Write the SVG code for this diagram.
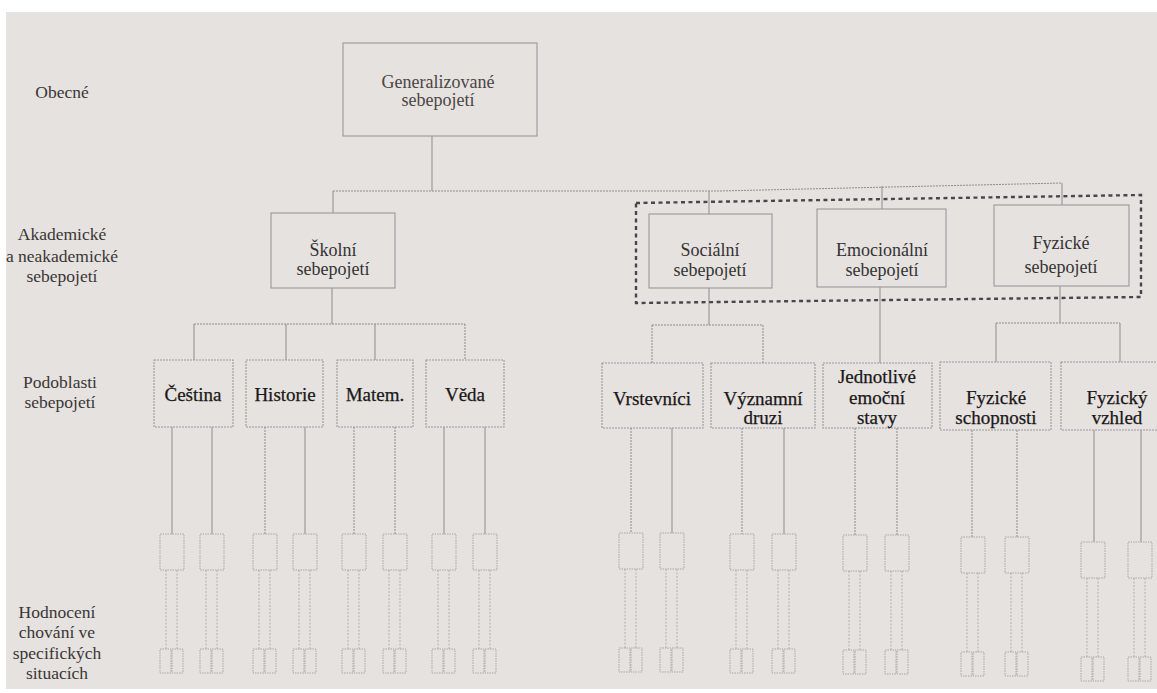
<svg xmlns="http://www.w3.org/2000/svg" xmlns:xlink="http://www.w3.org/1999/xlink" width="1157" height="693" viewBox="0 0 1157 693">
<style>
  .bg{fill:#e6e2e0}
  .box{fill:none;stroke:#9c9897;stroke-width:1.1}
  .dbox{fill:none;stroke:#9c9897;stroke-width:1.1;stroke-dasharray:2 1}
  .grp{fill:none;stroke:#4a4646;stroke-width:2.4;stroke-dasharray:4 3.5}
  .c{fill:none;stroke:#8f8b8a;stroke-width:1}
  .cd{fill:none;stroke:#8f8b8a;stroke-width:1;stroke-dasharray:2 1}
  .lf{fill:none;stroke:#aaa6a5;stroke-width:1;stroke-dasharray:1.5 1}
  .lfl{fill:none;stroke:#b3afae;stroke-width:1;stroke-dasharray:2 1.5}
  .txt text{text-anchor:middle}
  .t1{font-size:18px;fill:#4a4545}
  .t2{font-size:18px;fill:#333}
  .t3{font-size:19px;fill:#1a1818;stroke:#1a1818;stroke-width:0.25}
  .side{font-size:17.5px;fill:#3a3636}
</style>
<defs>
  <g id="leaf">
    <rect class="lf" x="-12" y="0" width="24" height="36"/>
    <line class="lfl" x1="-6" y1="36" x2="-6" y2="115"/>
    <line class="lfl" x1="5" y1="36" x2="5" y2="115"/>
    <rect class="lf" x="-12" y="115" width="11" height="24"/>
    <rect class="lf" x="0" y="115" width="11" height="24"/>
  </g>
</defs>
<rect x="0" y="0" width="1157" height="693" fill="#ffffff"/>
<rect class="bg" x="6" y="12" width="1151" height="677"/>

<g class="txt" font-family="'Liberation Serif', 'DejaVu Serif', 'Times New Roman', serif">

<g id="side-labels">
  <text class="side" x="62" y="98">Obecné</text>
  <text class="side" x="62" y="240">Akademické</text>
  <text class="side" x="62" y="262">a  neakademické</text>
  <text class="side" x="62" y="282">sebepojetí</text>
  <text class="side" x="60" y="388">Podoblasti</text>
  <text class="side" x="60" y="408">sebepojetí</text>
  <text class="side" x="57" y="618">Hodnocení</text>
  <text class="side" x="57" y="638">chování ve</text>
  <text class="side" x="57" y="659">specifických</text>
  <text class="side" x="57" y="679">situacích</text>
</g>

<g id="connectors">
  <line class="c" x1="432" y1="136" x2="432" y2="191"/>
  <polyline class="cd" points="333,191 720,191 1062,183"/>
  <line class="c" x1="333" y1="191" x2="333" y2="213"/>
  <line class="c" x1="709" y1="191" x2="709" y2="214"/>
  <line class="c" x1="882" y1="186" x2="882" y2="209"/>
  <line class="c" x1="1062" y1="183" x2="1062" y2="205"/>

  <line class="c" x1="332" y1="288" x2="332" y2="324"/>
  <line class="cd" x1="194" y1="324" x2="465" y2="324"/>
  <line class="c" x1="194" y1="324" x2="194" y2="360"/>
  <line class="c" x1="286" y1="324" x2="286" y2="360"/>
  <line class="c" x1="375" y1="324" x2="375" y2="360"/>
  <line class="cd" x1="465" y1="324" x2="465" y2="360"/>

  <line class="c" x1="709" y1="288" x2="709" y2="325"/>
  <line class="cd" x1="652" y1="325" x2="763" y2="325"/>
  <line class="cd" x1="652" y1="325" x2="652" y2="363"/>
  <line class="cd" x1="763" y1="325" x2="763" y2="363"/>

  <line class="c" x1="880" y1="287" x2="880" y2="363"/>

  <line class="c" x1="1060" y1="286" x2="1060" y2="323"/>
  <line class="cd" x1="996" y1="323" x2="1120" y2="323"/>
  <line class="c" x1="996" y1="323" x2="996" y2="362"/>
  <line class="c" x1="1120" y1="323" x2="1120" y2="362"/>

  <line class="c" x1="172" y1="427" x2="172" y2="534"/>
  <line class="c" x1="212" y1="427" x2="212" y2="534"/>
  <line class="cd" x1="265" y1="427" x2="265" y2="534"/>
  <line class="c" x1="305" y1="427" x2="305" y2="534"/>
  <line class="cd" x1="354" y1="427" x2="354" y2="534"/>
  <line class="cd" x1="395" y1="427" x2="395" y2="534"/>
  <line class="c" x1="444" y1="427" x2="444" y2="534"/>
  <line class="c" x1="485" y1="427" x2="485" y2="534"/>
  <line class="cd" x1="631" y1="428" x2="631" y2="533"/>
  <line class="c" x1="672" y1="428" x2="672" y2="533"/>
  <line class="cd" x1="742" y1="428" x2="742" y2="534"/>
  <line class="c" x1="784" y1="428" x2="784" y2="534"/>
  <line class="cd" x1="855" y1="428" x2="855" y2="535"/>
  <line class="cd" x1="897" y1="428" x2="897" y2="535"/>
  <line class="cd" x1="972" y1="430" x2="972" y2="537"/>
  <line class="cd" x1="1017" y1="430" x2="1017" y2="537"/>
  <line class="c" x1="1094" y1="430" x2="1094" y2="542"/>
  <line class="c" x1="1141" y1="430" x2="1141" y2="542"/>
</g>

<g id="n-general">
  <rect class="box" x="343" y="43" width="194" height="93"/>
  <text class="t1" x="438" y="88">Generalizované</text>
  <text class="t1" x="438" y="106">sebepojetí</text>
</g>

<g id="n-skolni">
  <rect class="box" x="271" y="213" width="124" height="75"/>
  <text class="t2" x="333" y="256">Školní</text>
  <text class="t2" x="333" y="275">sebepojetí</text>
</g>

<g id="n-group">
  <polygon class="grp" points="636,203 1141,195 1141,297 636,303"/>
</g>

<g id="n-socialni">
  <rect class="box" x="649" y="214" width="123" height="74"/>
  <text class="t2" x="710" y="256">Sociální</text>
  <text class="t2" x="710" y="276">sebepojetí</text>
</g>

<g id="n-emocionalni">
  <rect class="box" x="817" y="209" width="129" height="78"/>
  <text class="t2" x="882" y="256">Emocionální</text>
  <text class="t2" x="882" y="276">sebepojetí</text>
</g>

<g id="n-fyzicke">
  <rect class="box" x="994" y="205" width="135" height="81"/>
  <text class="t2" x="1061" y="249">Fyzické</text>
  <text class="t2" x="1061" y="273">sebepojetí</text>
</g>

<g id="n-cestina">
  <rect class="dbox" x="154" y="360" width="79" height="67"/>
  <text class="t3" x="193" y="401">Čeština</text>
</g>
<g id="n-historie">
  <rect class="dbox" x="246" y="360" width="77" height="67"/>
  <text class="t3" x="285" y="401">Historie</text>
</g>
<g id="n-matem">
  <rect class="dbox" x="337" y="360" width="76" height="67"/>
  <text class="t3" x="375" y="401">Matem.</text>
</g>
<g id="n-veda">
  <rect class="dbox" x="426" y="360" width="78" height="67"/>
  <text class="t3" x="465" y="401">Věda</text>
</g>
<g id="n-vrstevnici">
  <rect class="dbox" x="602" y="363" width="101" height="65"/>
  <text class="t3" x="652" y="405">Vrstevníci</text>
</g>
<g id="n-vyznamni">
  <rect class="dbox" x="711" y="363" width="104" height="65"/>
  <text class="t3" x="763" y="405">Významní</text>
  <text class="t3" x="763" y="424">druzi</text>
</g>
<g id="n-jednotlive">
  <rect class="dbox" x="823" y="363" width="109" height="65"/>
  <text class="t3" x="877" y="383">Jednotlivé</text>
  <text class="t3" x="877" y="404">emoční</text>
  <text class="t3" x="877" y="424">stavy</text>
</g>
<g id="n-schopnosti">
  <rect class="dbox" x="940" y="362" width="111" height="68"/>
  <text class="t3" x="996" y="404">Fyzické</text>
  <text class="t3" x="996" y="424">schopnosti</text>
</g>
<g id="n-vzhled">
  <rect class="dbox" x="1061" y="362" width="110" height="68"/>
  <text class="t3" x="1117" y="404">Fyzický</text>
  <text class="t3" x="1117" y="424">vzhled</text>
</g>

</g>

<g id="n-leaf-1"><use xlink:href="#leaf" href="#leaf" x="172" y="534"/></g>
<g id="n-leaf-2"><use xlink:href="#leaf" href="#leaf" x="212" y="534"/></g>
<g id="n-leaf-3"><use xlink:href="#leaf" href="#leaf" x="265" y="534"/></g>
<g id="n-leaf-4"><use xlink:href="#leaf" href="#leaf" x="305" y="534"/></g>
<g id="n-leaf-5"><use xlink:href="#leaf" href="#leaf" x="354" y="534"/></g>
<g id="n-leaf-6"><use xlink:href="#leaf" href="#leaf" x="395" y="534"/></g>
<g id="n-leaf-7"><use xlink:href="#leaf" href="#leaf" x="444" y="534"/></g>
<g id="n-leaf-8"><use xlink:href="#leaf" href="#leaf" x="485" y="534"/></g>
<g id="n-leaf-9"><use xlink:href="#leaf" href="#leaf" x="631" y="533"/></g>
<g id="n-leaf-10"><use xlink:href="#leaf" href="#leaf" x="672" y="533"/></g>
<g id="n-leaf-11"><use xlink:href="#leaf" href="#leaf" x="742" y="534"/></g>
<g id="n-leaf-12"><use xlink:href="#leaf" href="#leaf" x="784" y="534"/></g>
<g id="n-leaf-13"><use xlink:href="#leaf" href="#leaf" x="855" y="535"/></g>
<g id="n-leaf-14"><use xlink:href="#leaf" href="#leaf" x="897" y="535"/></g>
<g id="n-leaf-15"><use xlink:href="#leaf" href="#leaf" x="973" y="537"/></g>
<g id="n-leaf-16"><use xlink:href="#leaf" href="#leaf" x="1017" y="537"/></g>
<g id="n-leaf-17"><use xlink:href="#leaf" href="#leaf" x="1093" y="542"/></g>
<g id="n-leaf-18"><use xlink:href="#leaf" href="#leaf" x="1140" y="542"/></g>
</svg>
